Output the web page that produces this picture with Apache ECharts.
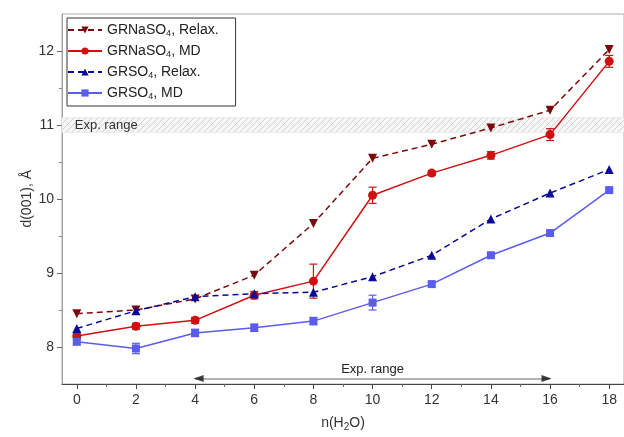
<!DOCTYPE html>
<html><head><meta charset="utf-8">
<script src="https://cdn.jsdelivr.net/npm/echarts@6/dist/echarts.min.js"></script>
<style>html,body{margin:0;padding:0;background:#fff}#c{width:624px;height:437px}</style>
</head><body><div id="c"></div>
<script>
const xs = [0, 2, 4, 6, 8, 10, 12, 14, 16, 18];
const naRelax = [8.45, 8.50, 8.65, 8.97, 9.67, 10.55, 10.74, 10.96, 11.20, 12.02];
const naMD = [8.15, 8.28, 8.36, 8.70, 8.89, 10.05, 10.35, 10.59, 10.87, 11.86];
const naMDErr = [0.03, 0.04, 0.04, 0.05, 0.23, 0.11, 0.03, 0.05, 0.08, 0.08];
const soRelax = [8.25, 8.49, 8.68, 8.72, 8.74, 8.95, 9.24, 9.73, 10.08, 10.40];
const soMD = [8.07, 7.98, 8.19, 8.26, 8.35, 8.60, 8.85, 9.24, 9.54, 10.12];
const soMDErr = [0.03, 0.07, 0.05, 0.05, 0.05, 0.10, 0.03, 0.03, 0.03, 0.02];
const xTicks = [0, 2, 4, 6, 8, 10, 12, 14, 16, 18];
const xMinor = [1, 3, 5, 7, 9, 11, 13, 15, 17];
const yTicks = [8, 9, 10, 11, 12];
const yMinor = [8.5, 9.5, 10.5, 11.5];
const expBand = [10.9, 11.1];
const expArrow = [4, 16];
const arrowY = 7.575;
const yTitle = 'd(001), Å';

const FONT = 'Liberation Sans, Arial, sans-serif';
const C_NR = '#7a0a0a', C_NM = '#d01010', C_SR = '#0a0a9a', C_SM = '#5b5bee';

// hatch pattern
const pc = document.createElement('canvas');
pc.width = 6; pc.height = 6;
const g = pc.getContext('2d');
g.fillStyle = '#f6f6f6'; g.fillRect(0, 0, 6, 6);
g.strokeStyle = '#d2d2d2'; g.lineWidth = 1;
g.beginPath(); g.moveTo(0, 6); g.lineTo(6, 0); g.moveTo(-3, 3); g.lineTo(3, -3); g.moveTo(3, 9); g.lineTo(9, 3); g.stroke();

function pairs(v) { return xs.map((x, i) => [x, v[i]]); }
function errData(v, e) { return xs.map((x, i) => [x, v[i] - e[i], v[i] + e[i]]); }
function errSeries(v, e, color) {
  return {
    type: 'custom', silent: true, z: 3,
    renderItem: function (params, api) {
      const x = api.value(0);
      const lo = api.coord([x, api.value(1)]);
      const hi = api.coord([x, api.value(2)]);
      const w = 4;
      const st = { stroke: color, lineWidth: 1.2 };
      return { type: 'group', children: [
        { type: 'line', shape: { x1: lo[0], y1: lo[1], x2: hi[0], y2: hi[1] }, style: st },
        { type: 'line', shape: { x1: lo[0] - w, y1: lo[1], x2: lo[0] + w, y2: lo[1] }, style: st },
        { type: 'line', shape: { x1: hi[0] - w, y1: hi[1], x2: hi[0] + w, y2: hi[1] }, style: st }
      ]};
    },
    data: errData(v, e)
  };
}

const chart = echarts.init(document.getElementById('c'), null, { renderer: 'canvas' });
const axisLabelStyle = { color: '#333', fontSize: 14, fontFamily: FONT };
chart.setOption({
  animation: false,
  backgroundColor: '#fff',
  grid: { left: 62, top: 14, width: 570, height: 370, show: true, borderColor: '#b0b0b0', borderWidth: 1 },
  graphic: [{
    type: 'text', left: 20, top: 170, rotation: Math.PI / 2,
    style: { text: yTitle, fontSize: 14, fontFamily: FONT, fill: '#333' }
  }],
  xAxis: [{
    type: 'value', min: -0.5, max: 18.5,
    name: '{a|n(H}{s|2}{a|O)}', nameLocation: 'middle', nameGap: 30,
    nameTextStyle: { rich: { a: { fontSize: 14, fontFamily: FONT, color: '#333' }, s: { fontSize: 10, fontFamily: FONT, color: '#333', padding: [8, 0, 0, 0] } } },
    axisLine: { onZero: false, lineStyle: { color: '#444', width: 1 } },
    axisTick: { customValues: xTicks, length: 5, lineStyle: { color: '#444' } },
    axisLabel: Object.assign({ customValues: xTicks, margin: 9 }, axisLabelStyle),
    splitLine: { show: false }
  }, {
    type: 'value', min: -0.5, max: 18.5, position: 'bottom',
    axisLine: { show: false, onZero: false },
    axisTick: { customValues: xMinor, length: 3, lineStyle: { color: '#666' } },
    axisLabel: { show: false }, splitLine: { show: false }
  }],
  yAxis: [{
    type: 'value', min: 7.5, max: 12.5,
    axisLine: { show: true, onZero: false, lineStyle: { color: '#a0a0a0', width: 1 } },
    axisTick: { customValues: yTicks, length: 5, lineStyle: { color: '#666' } },
    axisLabel: Object.assign({ customValues: yTicks, margin: 8 }, axisLabelStyle),
    splitLine: { show: false }
  }, {
    type: 'value', min: 7.5, max: 12.5, position: 'left',
    axisLine: { show: false, onZero: false },
    axisTick: { customValues: yMinor, length: 3, lineStyle: { color: '#888' } },
    axisLabel: { show: false }, splitLine: { show: false }
  }],
  legend: {
    orient: 'vertical', left: 67, top: 18, width: 169,
    itemWidth: 34, itemHeight: 9, itemGap: 6,
    padding: [5, 17, 5, 0],
    borderColor: '#333', borderWidth: 1, backgroundColor: '#fff',
    textStyle: { fontSize: 14, fontFamily: FONT, color: '#222',
      rich: { s: { fontSize: 9, fontFamily: FONT, color: '#222', padding: [7, 0, 0, 0] } } },
    formatter: function (n) { return n.replace('SO4', 'SO{s|4}'); },
    data: ['GRNaSO4, Relax.', 'GRNaSO4, MD', 'GRSO4, Relax.', 'GRSO4, MD']
  },
  series: [
    {
      name: 'GRNaSO4, Relax.', type: 'line', data: pairs(naRelax), z: 4,
      symbol: 'triangle', symbolRotate: 180, symbolSize: 9,
      lineStyle: { color: C_NR, width: 1.5, type: [6, 4] }, itemStyle: { color: C_NR },
      markArea: {
        silent: true,
        itemStyle: { color: { image: pc, repeat: 'repeat' }, borderColor: '#e0e0e0', borderWidth: 0.5 },
        label: { show: true, position: 'insideLeft', color: '#333', fontSize: 13, fontFamily: FONT, offset: [8, 0] },
        data: [[{ name: 'Exp. range', coord: [-0.5, expBand[0]] }, { coord: [18.5, expBand[1]] }]]
      }
    },
    {
      name: 'GRNaSO4, MD', type: 'line', data: pairs(naMD), z: 4,
      symbol: 'circle', symbolSize: 9,
      lineStyle: { color: C_NM, width: 1.5 }, itemStyle: { color: C_NM },
      markLine: {
        silent: true, symbol: ['none', 'none'],
        lineStyle: { color: '#9a9a9a', width: 1.5, type: 'solid' },
        label: { show: true, position: 'middle', formatter: 'Exp. range', color: '#222', fontSize: 13, fontFamily: FONT, distance: 3 },
        data: [[{ coord: [expArrow[0], arrowY] }, { coord: [expArrow[1], arrowY] }]]
      }
    },
    {
      name: 'GRSO4, Relax.', type: 'line', data: pairs(soRelax), z: 4,
      symbol: 'triangle', symbolSize: 9,
      lineStyle: { color: C_SR, width: 1.5, type: [6, 4] }, itemStyle: { color: C_SR }
    },
    {
      name: 'GRSO4, MD', type: 'line', data: pairs(soMD), z: 4,
      symbol: 'rect', symbolSize: 8,
      lineStyle: { color: C_SM, width: 1.5 }, itemStyle: { color: C_SM }
    },
    Object.assign(errSeries(naMD, naMDErr, C_NM), { name: 'errNa' }),
    Object.assign(errSeries(soMD, soMDErr, C_SM), { name: 'errSo' }),
    {
      type: 'scatter', silent: true, z: 5, name: 'arrows',
      symbol: 'triangle', symbolSize: [7, 10],
      itemStyle: { color: '#111' },
      data: [
        { value: [expArrow[0] + 0.12, arrowY], symbolRotate: 90 },
        { value: [expArrow[1] - 0.12, arrowY], symbolRotate: -90 }
      ]
    }
  ]
});
</script>
</body></html>
